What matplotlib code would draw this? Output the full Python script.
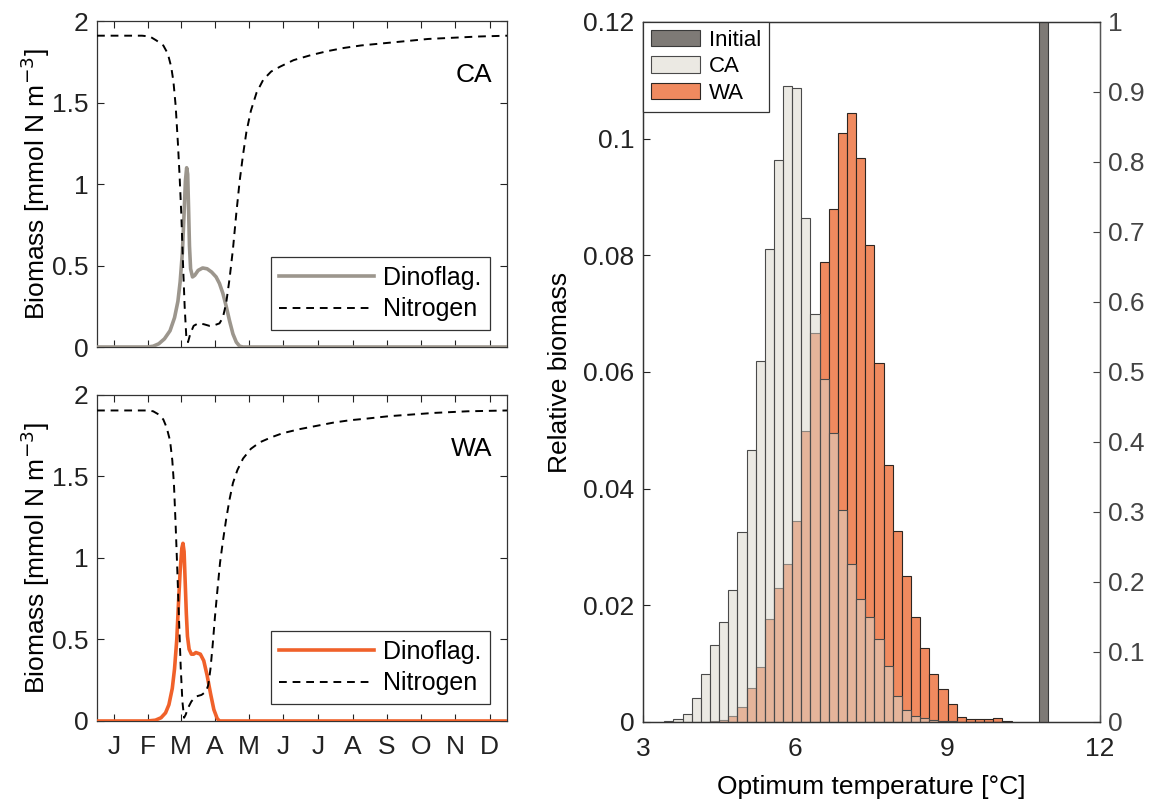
import numpy as np
import matplotlib
matplotlib.use("Agg")
from matplotlib import pyplot as plt
from matplotlib.patches import Patch
from matplotlib.lines import Line2D

plt.rcParams['font.family'] = ['Liberation Sans', 'DejaVu Sans']
plt.rcParams['axes.edgecolor'] = '#333333'
plt.rcParams['axes.linewidth'] = 0.9

# --- seasonal cycle, cold scenario (CA) ---
ca_day = [0, 40, 47, 53, 59, 63, 66, 68, 70, 72, 73.5, 75, 76.5, 78, 79.5, 81, 83, 86,
          90, 95, 100, 105, 109, 112, 115, 118, 121, 124, 127, 130, 133, 137, 142, 148,
          155, 163, 175, 190, 205, 220, 235, 250, 265, 280, 295, 310, 325, 340, 365]
ca_nitrogen = [1.91, 1.91, 1.905, 1.88, 1.85, 1.80, 1.72, 1.63, 1.48, 1.25, 1.05, 0.82,
               0.52, 0.25, 0.06, 0.03, 0.08, 0.13, 0.145, 0.14, 0.13, 0.135, 0.145, 0.18,
               0.27, 0.42, 0.60, 0.82, 1.02, 1.18, 1.32, 1.45, 1.56, 1.64, 1.69, 1.72,
               1.76, 1.79, 1.815, 1.835, 1.85, 1.86, 1.87, 1.88, 1.89, 1.895, 1.90, 1.905,
               1.91]
ca_dino_day = [0, 45, 50, 55, 60, 65, 69, 72, 74, 76, 77.5, 78.7, 79.8, 80.7, 81.5, 82.3,
               83.3, 85, 87, 90, 94, 98, 102, 106, 109, 112, 115, 118, 121, 124, 127, 130,
               365]
ca_dino = [0, 0, 0.005, 0.02, 0.05, 0.10, 0.18, 0.28, 0.40, 0.58, 0.82, 1.02, 1.10, 1.06,
           0.85, 0.62, 0.48, 0.43, 0.44, 0.47, 0.485, 0.48, 0.46, 0.43, 0.39, 0.33, 0.25,
           0.16, 0.08, 0.03, 0.005, 0, 0]

# --- seasonal cycle, warm scenario (WA) ---
wa_day = [0, 45, 50, 55, 59, 62, 65, 67, 68.5, 70, 71.5, 73, 74.5, 76, 77.5, 79, 81, 84,
          88, 93, 97, 99, 101, 103, 105, 107, 109.5, 112, 115, 118, 121, 125, 130, 137,
          145, 155, 165, 180, 195, 210, 225, 240, 260, 280, 300, 330, 365]
wa_nitrogen = [1.905, 1.905, 1.90, 1.88, 1.85, 1.80, 1.72, 1.60, 1.45, 1.20, 0.92, 0.62,
               0.33, 0.12, 0.02, 0.04, 0.08, 0.12, 0.15, 0.16, 0.18, 0.22, 0.32, 0.47,
               0.64, 0.79, 0.97, 1.10, 1.24, 1.36, 1.46, 1.54, 1.61, 1.67, 1.71, 1.74,
               1.765, 1.79, 1.81, 1.83, 1.845, 1.855, 1.87, 1.88, 1.89, 1.90, 1.905]
wa_dino_day = [0, 45, 52, 57, 61, 64, 67, 69, 71, 72.5, 74, 75.5, 76.5, 77.5, 78.5, 79.5,
               80.5, 82, 84, 86, 88, 90, 92, 95, 98, 101, 104, 107, 109, 365]
wa_dino = [0, 0, 0.005, 0.02, 0.05, 0.10, 0.20, 0.32, 0.50, 0.72, 0.92, 1.06, 1.09, 1.04,
           0.85, 0.66, 0.52, 0.44, 0.41, 0.41, 0.42, 0.415, 0.41, 0.37, 0.28, 0.17, 0.07,
           0.015, 0, 0]

months = ['J', 'F', 'M', 'A', 'M', 'J', 'J', 'A', 'S', 'O', 'N', 'D']
month_mid = [15.5, 45, 74.5, 105, 135.5, 166, 196.5, 227.5, 258, 288.5, 319, 349.5]

# --- optimum temperature distributions ---
bin_width = 0.18
temp_bins = np.round(3.42 + bin_width * np.arange(38), 2)
ca_hist = [0.0002, 0.0005, 0.0014, 0.0041, 0.0082, 0.0132, 0.0172, 0.0227, 0.0325,
           0.0467, 0.0619, 0.0811, 0.0963, 0.1091, 0.1087, 0.0864, 0.0699, 0.0588,
           0.0495, 0.0364, 0.0270, 0.0211, 0.0180, 0.0142, 0.0096, 0.0044, 0.0021,
           0.0010, 0.0007, 0.0004, 0.0002, 0.0001, 0, 0, 0, 0, 0, 0]
wa_hist = [0, 0, 0, 0, 0, 0.0001, 0.0003, 0.0011, 0.0026, 0.0058, 0.0094, 0.0176,
           0.0229, 0.0271, 0.0345, 0.0498, 0.0667, 0.0788, 0.0880, 0.1009, 0.1044,
           0.0966, 0.0817, 0.0616, 0.0441, 0.0328, 0.0250, 0.0180, 0.0126, 0.0083,
           0.0057, 0.0031, 0.0009, 0.0005, 0.0005, 0.0005, 0.0006, 0.0002]
initial_bin = 10.80
initial_value = 1.0

c_ca_line = '#9c968d'
c_wa_line = '#f0612a'
c_wa_bar = '#f08a5f'
c_ca_bar = (0.863, 0.843, 0.80, 0.55)
c_init = '#7e7a76'

fig = plt.figure(figsize=(11.51, 8.02), dpi=100)
ax1 = fig.add_axes([0.0843, 0.5673, 0.3562, 0.4065])
ax2 = fig.add_axes([0.0843, 0.1010, 0.3562, 0.4065])
ax3 = fig.add_axes([0.5586, 0.0998, 0.3970, 0.8728])

fs = 19

def season_panel(ax, day_n, nit, day_d, dino, col, name, show_months):
    ax.plot(day_d, dino, color=col, lw=2.6, solid_capstyle='butt', zorder=3)
    ax.plot(day_n, nit, color='k', lw=1.4, ls=(0, (4, 3)), zorder=4)
    ax.set_xlim(0, 365)
    ax.set_ylim(0, 2)
    ax.set_yticks([0, 0.5, 1, 1.5, 2])
    ax.set_yticklabels(['0', '0.5', '1', '1.5', '2'])
    ax.set_xticks(month_mid)
    if show_months:
        ax.set_xticklabels(months)
    else:
        ax.set_xticklabels([])
    ax.tick_params(direction='in', top=True, right=True, length=5, width=0.8,
                   labelsize=fs, colors='#222222')
    ax.tick_params(axis='y', pad=6)
    ax.tick_params(axis='x', pad=10)
    ax.set_ylabel('Biomass [mmol N m$^{-3}$]', fontsize=fs, labelpad=0)
    ax.text(0.965, 0.835, name, transform=ax.transAxes, ha='right', va='center',
            fontsize=19)
    handles = [Line2D([], [], color=col, lw=2.6),
               Line2D([], [], color='k', lw=1.4, ls=(0, (4, 3)))]
    leg = ax.legend(handles, ['Dinoflag.', 'Nitrogen'], loc='lower right',
                    bbox_to_anchor=(0.959, 0.052), borderaxespad=0, fontsize=18,
                    handlelength=3.8, handletextpad=0.35, labelspacing=0.3,
                    borderpad=0.35, fancybox=False, framealpha=1)
    leg.get_frame().set_edgecolor('#333333')
    leg.get_frame().set_linewidth(0.9)

season_panel(ax1, ca_day, ca_nitrogen, ca_dino_day, ca_dino, c_ca_line, 'CA', False)
season_panel(ax2, wa_day, wa_nitrogen, wa_dino_day, wa_dino, c_wa_line, 'WA', True)

# histogram panel: WA underneath, CA semi-transparent on top
ax3.bar(temp_bins, wa_hist, width=bin_width, align='edge', color=c_wa_bar,
        edgecolor='#2e2622', linewidth=0.8, zorder=2)
ax3.bar(temp_bins, ca_hist, width=bin_width, align='edge', color=c_ca_bar,
        edgecolor='#4a4a4a', linewidth=0.8, zorder=3)
ax3.set_xlim(3, 12)
ax3.set_ylim(0, 0.12)
ax3.set_xticks([3, 6, 9, 12])
ax3.set_yticks([0, 0.02, 0.04, 0.06, 0.08, 0.1, 0.12])
ax3.set_yticklabels(['0', '0.02', '0.04', '0.06', '0.08', '0.1', '0.12'])
ax3.tick_params(direction='in', length=5, width=0.8, labelsize=fs, colors='#222222')
ax3.tick_params(axis='y', pad=6)
ax3.tick_params(axis='x', pad=11)
ax3.set_xlabel('Optimum temperature [°C]', fontsize=fs, labelpad=10)
ax3.set_ylabel('Relative biomass', fontsize=fs, labelpad=8)

ax4 = ax3.twinx()
ax4.bar([initial_bin], [initial_value], width=bin_width, align='edge', color=c_init,
        edgecolor='#3a3a3a', linewidth=0.8, zorder=2)
ax4.set_ylim(0, 1)
ax4.set_yticks(np.round(np.arange(0, 1.01, 0.1), 1))
ax4.set_yticklabels(['0', '0.1', '0.2', '0.3', '0.4', '0.5', '0.6', '0.7', '0.8',
                     '0.9', '1'])
ax4.tick_params(direction='in', length=5, width=0.8, labelsize=fs, pad=6,
                colors='#444444')
ax4.spines['right'].set_color('#555555')

handles = [Patch(facecolor=c_init, edgecolor='#3a3a3a', lw=0.8),
           Patch(facecolor=c_ca_bar, edgecolor='#4a4a4a', lw=0.8),
           Patch(facecolor=c_wa_bar, edgecolor='#2e2622', lw=0.8)]
leg = ax4.legend(handles, ['Initial', 'CA', 'WA'], loc='upper left', borderaxespad=0,
                 fontsize=16, handlelength=2.2, handleheight=0.75, handletextpad=0.4,
                 labelspacing=0.25, borderpad=0.35, fancybox=False, framealpha=1)
leg.get_frame().set_edgecolor('#333333')
leg.get_frame().set_linewidth(0.9)

fig.savefig('out.png', dpi=100, facecolor='white')
